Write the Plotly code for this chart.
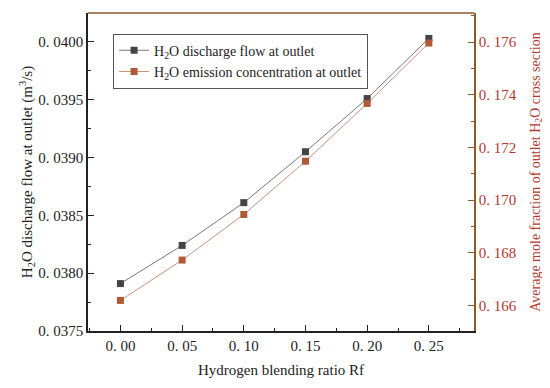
import plotly.graph_objects as go

rf = [0.00, 0.05, 0.10, 0.15, 0.20, 0.25]
flow = [0.03791, 0.03824, 0.03861, 0.03905, 0.03951, 0.04003]
conc = [0.16620, 0.16773, 0.16946, 0.17148, 0.17367, 0.17596]

x_ticks = [0.00, 0.05, 0.10, 0.15, 0.20, 0.25]
x_labels = ["0. 00", "0. 05", "0. 10", "0. 15", "0. 20", "0. 25"]
y1_ticks = [0.0375, 0.0380, 0.0385, 0.0390, 0.0395, 0.0400]
y1_labels = ["0. 0375", "0. 0380", "0. 0385", "0. 0390", "0. 0395", "0. 0400"]
y2_ticks = [0.166, 0.168, 0.170, 0.172, 0.174, 0.176]
y2_labels = ["0. 166", "0. 168", "0. 170", "0. 172", "0. 174", "0. 176"]

FONT = "Liberation Serif"
RED = "#B3392F"
BROWN = "#8B5A2B"

fig = go.Figure()
fig.add_trace(go.Scatter(
    x=rf, y=flow, mode="lines+markers",
    name="H<sub>2</sub>O discharge flow at outlet",
    line=dict(color="#7a7a7a", width=1),
    marker=dict(symbol="square", size=7, color="#444444"),
))
fig.add_trace(go.Scatter(
    x=rf, y=conc, mode="lines+markers", yaxis="y2",
    name="H<sub>2</sub>O emission concentration at outlet",
    line=dict(color="#C9937A", width=1),
    marker=dict(symbol="square", size=7, color="#B05A35"),
))

fig.update_layout(
    width=542, height=380,
    margin=dict(l=80, r=76, t=5, b=57),
    paper_bgcolor="white", plot_bgcolor="white",
    font=dict(family=FONT, size=14, color="#222222"),
    showlegend=True,
    legend=dict(
        x=0.065, y=0.935, xanchor="left", yanchor="top",
        bgcolor="white", bordercolor="#555555", borderwidth=1,
        font=dict(family=FONT, size=14, color="#222222"),
        tracegroupgap=0, itemwidth=30,
    ),
    xaxis=dict(
        range=[-0.0263, 0.2866], automargin=False,
        tickvals=x_ticks, ticktext=x_labels,
        ticks="inside", ticklen=6, tickcolor="#222222",
        minor=dict(ticks="inside", ticklen=3, dtick=0.025, tick0=0, tickcolor="#222222"),
        showline=True, linecolor="#222222", linewidth=1.5,
        showgrid=False, zeroline=False, mirror=False,
        title=dict(text="Hydrogen blending ratio Rf", font=dict(size=15), standoff=12),
        tickfont=dict(size=15),
    ),
    yaxis=dict(
        range=[0.0375, 0.04025], automargin=False,
        tickvals=y1_ticks, ticktext=y1_labels,
        ticks="inside", ticklen=6, tickcolor="#222222",
        minor=dict(ticks="inside", ticklen=3, dtick=0.00025, tick0=0.0375, tickcolor="#222222"),
        showline=True, linecolor="#222222", linewidth=1.5,
        showgrid=False, zeroline=False,
        title=dict(text="H<sub>2</sub>O discharge flow at outlet (m<sup>3</sup>/s)", font=dict(size=15), standoff=2),
        tickfont=dict(size=15),
    ),
    yaxis2=dict(
        overlaying="y", side="right", automargin=False,
        range=[0.16504, 0.1771],
        tickvals=y2_ticks, ticktext=y2_labels,
        ticks="inside", ticklen=6, tickcolor=BROWN,
        minor=dict(ticks="inside", ticklen=3, dtick=0.001, tick0=0.166, tickcolor=BROWN),
        showline=True, linecolor=BROWN, linewidth=1.5,
        showgrid=False, zeroline=False,
        title=dict(text="Average mole fraction of outlet H<sub>2</sub>O cross section", font=dict(size=14, color=RED), standoff=14),
        tickfont=dict(size=15, color=RED),
    ),
    shapes=[dict(type="line", xref="paper", yref="paper", x0=0, x1=1, y0=1, y1=1,
                 line=dict(color=BROWN, width=1.5))],
)

fig.write_html("out.html")
